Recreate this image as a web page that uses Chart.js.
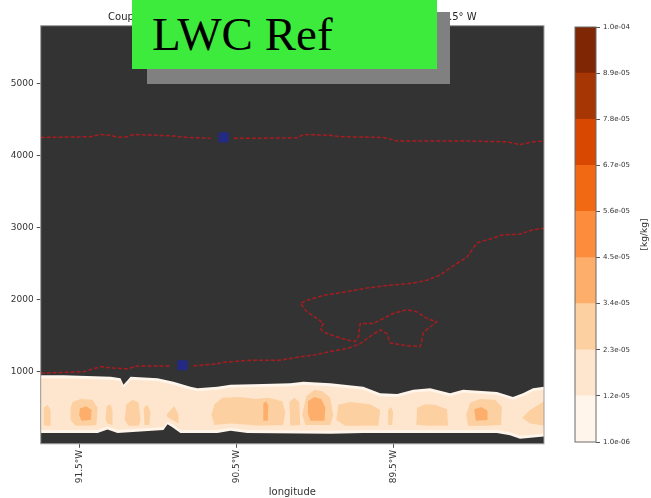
<!DOCTYPE html>
<html>
<head>
<meta charset="utf-8">
<script src="https://cdn.jsdelivr.net/npm/chart.js@4.4.1/dist/chart.umd.min.js"></script>
<style>
  html, body { margin: 0; padding: 0; background: #ffffff; }
  #wrap { position: relative; width: 651px; height: 498px; overflow: hidden; }
  #main { position: absolute; left: 0; top: 0; }
  #cbar { position: absolute; left: 560px; top: 0; }
  #tagShadow { position: absolute; left: 147px; top: 12px; width: 303px; height: 72px; background: #808080; }
  #tag { position: absolute; left: 132px; top: -3px; width: 305px; height: 72px; background: #3deb3d; }
  #tag span { position: absolute; left: 20px; top: 13.6px; font: 47px/47px "Liberation Serif", serif; color: #000; white-space: nowrap; }
</style>
</head>
<body>
<div id="wrap">
  <canvas id="main" width="651" height="498"></canvas>
  <canvas id="cbar" width="91" height="498"></canvas>
  <div id="tagShadow"></div>
  <div id="tag"><span>LWC Ref</span></div>
</div>
<script>
// ---- axes -------------------------------------------------------------
const lonRange = [-91.75, -88.54];
const heightRange = [0, 5800];
const lonTicks = [-91.5, -90.5, -89.5];
const heightTicks = [1000, 2000, 3000, 4000, 5000];

// ---- LWC contour levels [kg/kg] and their fill colours ---------------------
const lwcLevels = [1e-6, 1.2e-5, 2.3e-5, 3.4e-5, 4.5e-5, 5.6e-5, 6.7e-5, 7.8e-5, 8.9e-5, 1e-4];
const lwcColors = ['#fff5eb', '#fee6ce', '#fdd0a2', '#fdae6b', '#fd8d3c', '#f16913', '#d94801', '#a63603', '#7f2704'];

// ---- cloud layer outlines, [longitude, height m] ---------------------------
const cloudOuter = [
  [-91.75,950],[-91.604,950],[-91.304,930],[-91.241,910],[-91.222,820],[-91.196,880],[-91.177,930],
  [-91.005,910],[-90.903,860],[-90.795,790],[-90.75,770],[-90.623,790],[-90.54,820],[-90.33,830],
  [-90.158,840],[-90.075,860],[-89.903,840],[-89.693,790],[-89.585,700],[-89.476,690],[-89.374,750],
  [-89.266,770],[-89.139,700],[-89.056,750],[-88.84,720],[-88.738,650],[-88.674,700],[-88.61,770],[-88.54,790],
  [-88.54,100],[-88.693,70],[-88.757,120],[-88.84,150],[-89.266,150],[-89.693,150],[-89.903,140],
  [-90.432,150],[-90.54,180],[-90.623,150],[-90.859,150],[-90.91,230],[-90.941,270],[-90.967,190],
  [-91.26,150],[-91.324,200],[-91.387,150],[-91.75,150]
];
const cloudCore = [
  [-91.75,910],[-91.604,910],[-91.304,890],[-91.241,870],[-91.222,780],[-91.196,840],[-91.177,890],
  [-91.005,870],[-90.903,820],[-90.795,750],[-90.75,730],[-90.623,750],[-90.54,780],[-90.33,790],
  [-90.158,800],[-90.075,820],[-89.903,800],[-89.693,750],[-89.585,660],[-89.476,650],[-89.374,710],
  [-89.266,730],[-89.139,660],[-89.056,710],[-88.84,680],[-88.738,610],[-88.674,660],[-88.61,730],[-88.54,750],
  [-88.54,140],[-88.693,110],[-88.757,160],[-88.84,190],[-89.266,190],[-89.693,190],[-89.903,180],
  [-90.432,190],[-90.54,220],[-90.623,190],[-90.859,190],[-90.91,270],[-90.941,310],[-90.967,230],
  [-91.26,190],[-91.324,240],[-91.387,190],[-91.75,190]
];
// 1.2e-05 .. 2.3e-05 cells
const lwcPatchesMid = [
  [[-91.731,500],[-91.706,540],[-91.687,470],[-91.687,250],[-91.712,250],[-91.731,260]],
  [[-91.547,580],[-91.496,620],[-91.419,610],[-91.387,500],[-91.394,260],[-91.445,250],[-91.527,250],[-91.559,330],[-91.559,500]],
  [[-91.330,520],[-91.304,550],[-91.292,470],[-91.292,260],[-91.324,280],[-91.336,330]],
  [[-91.203,550],[-91.164,610],[-91.126,570],[-91.113,330],[-91.126,250],[-91.190,250],[-91.215,330]],
  [[-91.094,500],[-91.069,540],[-91.050,440],[-91.056,260],[-91.088,260]],
  [[-90.922,470],[-90.897,520],[-90.871,400],[-90.871,280],[-90.941,370],[-90.948,400]],
  [[-90.642,550],[-90.591,640],[-90.476,650],[-90.381,620],[-90.298,640],[-90.209,590],[-90.190,440],[-90.203,260],[-90.349,250],[-90.540,280],[-90.642,260],[-90.661,400]],
  [[-90.164,580],[-90.132,640],[-90.101,580],[-90.094,260],[-90.158,250]],
  [[-90.056,660],[-90.005,750],[-89.954,730],[-89.903,640],[-89.884,400],[-89.903,260],[-90.062,260],[-90.082,400]],
  [[-89.852,540],[-89.776,580],[-89.648,550],[-89.585,470],[-89.597,250],[-89.808,250],[-89.865,330]],
  [[-89.534,470],[-89.515,510],[-89.502,440],[-89.508,260],[-89.534,260]],
  [[-89.349,500],[-89.298,550],[-89.234,540],[-89.158,480],[-89.152,250],[-89.266,250],[-89.355,260]],
  [[-89.011,570],[-88.948,620],[-88.852,610],[-88.808,510],[-88.814,260],[-88.916,250],[-89.024,250],[-89.037,400]],
  [[-88.54,590],[-88.54,250],[-88.629,280],[-88.680,360],[-88.629,470]]
];
// 2.3e-05 .. 3.4e-05 cells
const lwcPatchesHigh = [
  [[-91.500,490],[-91.460,520],[-91.425,470],[-91.430,330],[-91.490,320],[-91.505,400]],
  [[-90.045,590],[-90.005,650],[-89.960,620],[-89.935,500],[-89.940,320],[-90.030,320],[-90.045,420]],
  [[-90.330,560],[-90.313,590],[-90.298,530],[-90.302,320],[-90.330,320]],
  [[-88.985,480],[-88.940,510],[-88.900,460],[-88.900,330],[-88.975,320]]
];

// ---- reference contour (dashed red), [longitude, height m] ------------------
const isoUpperWest = [[-91.75,4250],[-91.432,4260],[-91.368,4290],[-91.304,4280],[-91.262,4250],[-91.198,4260],
  [-91.156,4290],[-91.007,4280],[-90.901,4270],[-90.816,4250],[-90.668,4240]];
const isoUpperEast = [[-90.519,4240],[-90.328,4240],[-90.115,4245],[-90.073,4290],[-89.903,4280],[-89.84,4260],
  [-89.564,4250],[-89.478,4200],[-89.266,4200],[-89.054,4200],[-88.778,4190],[-88.693,4150],[-88.608,4190],[-88.54,4200]];
const isoLowerWest = [[-91.75,980],[-91.476,1000],[-91.368,1070],[-91.285,1050],[-91.196,1040],[-91.133,1080],[-90.922,1080]];
const isoLowerEast = [[-90.776,1080],[-90.623,1110],[-90.585,1130],[-90.413,1160],[-90.33,1160],[-90.222,1160],
  [-90.115,1200],[-90.01,1230],[-89.903,1280],[-89.797,1320],[-89.712,1390],[-89.648,1490],[-89.585,1580],
  [-89.542,1530],[-89.521,1400],[-89.415,1360],[-89.33,1350],[-89.319,1440],[-89.309,1550],[-89.266,1620],
  [-89.224,1690],[-89.287,1740],[-89.351,1830],[-89.415,1860],[-89.5,1810],[-89.564,1740],[-89.627,1670],
  [-89.712,1670],[-89.723,1490],[-89.744,1420],[-89.797,1440],[-89.871,1490],[-89.946,1550],[-89.967,1600],
  [-89.946,1670],[-89.988,1740],[-90.052,1830],[-90.094,1950],[-90.052,1990],[-89.946,2060],[-89.797,2110],
  [-89.669,2160],[-89.521,2200],[-89.373,2230],[-89.287,2270],[-89.203,2340],[-89.139,2440],[-89.031,2590],
  [-88.967,2790],[-88.884,2840],[-88.801,2900],[-88.693,2910],[-88.61,2970],[-88.54,2990]];
const contourLabelPts = [[-90.583,4250],[-90.846,1090]];

const titleText = 'Coupled model liquid water content at 0.25° S, from 91.75° W to 88.5° W';

// ---- helpers ---------------------------------------------------------------
const FONT = '"DejaVu Sans", sans-serif';
const pts = arr => arr.map(([x, y]) => ({x, y}));
const region = (arr, band) => ({
  data: pts(arr), showLine: true, fill: 'shape', tension: 0,
  backgroundColor: lwcColors[band], borderColor: 'rgba(0,0,0,0)', borderWidth: 0, pointRadius: 0
});
const contour = arr => ({
  data: pts(arr), showLine: true, fill: false, tension: 0,
  borderColor: '#a81c20', borderWidth: 1.5, borderDash: [4, 2], pointRadius: 0
});
const sciLabel = v => {
  const [m, e] = Number(v).toExponential(1).split('e');
  const n = parseInt(e, 10);
  return m + 'e' + (n < 0 ? '-' : '+') + String(Math.abs(n)).padStart(2, '0');
};

// datasets listed top-most first
const datasets = [];
datasets.push({data: pts(contourLabelPts), showLine: false, pointStyle: 'rect', pointRadius: 7,
  backgroundColor: '#232a86', borderColor: '#232a86', borderWidth: 0});
[isoUpperWest, isoUpperEast, isoLowerWest, isoLowerEast].forEach(a => datasets.push(contour(a)));
lwcPatchesHigh.forEach(a => datasets.push(region(a, 3)));
lwcPatchesMid.forEach(a => datasets.push(region(a, 2)));
datasets.push(region(cloudCore, 1));
datasets.push(region(cloudOuter, 0));

const plotFrame = {
  id: 'plotFrame',
  beforeDatasetsDraw(chart) {
    const {ctx, chartArea: a} = chart;
    ctx.save();
    ctx.fillStyle = '#333333';
    ctx.fillRect(a.left, a.top, a.width, a.height);
    ctx.restore();
  },
  afterDatasetsDraw(chart) {
    const {ctx, chartArea: a} = chart;
    ctx.save();
    ctx.strokeStyle = '#a0a0a0';
    ctx.lineWidth = 1;
    ctx.strokeRect(a.left, a.top, a.width, a.height);
    ctx.restore();
  }
};

new Chart(document.getElementById('main'), {
  type: 'line',
  data: {datasets},
  options: {
    responsive: false, animation: false, devicePixelRatio: 1,
    layout: {padding: {left: 0, right: 107, top: 0, bottom: 0}},
    plugins: {
      legend: {display: false},
      tooltip: {enabled: false},
      title: {display: true, fullSize: false, text: titleText, color: '#262626',
        font: {family: FONT, size: 10, weight: 'normal'}, padding: {top: 11, bottom: 2.7}}
    },
    scales: {
      x: {
        type: 'linear', min: lonRange[0], max: lonRange[1],
        afterBuildTicks: s => { s.ticks = lonTicks.map(v => ({value: v})); },
        afterFit: s => { s.height = 54.2; },
        ticks: {autoSkip: false, minRotation: 90, maxRotation: 90, padding: 2, color: '#333',
          font: {family: FONT, size: 9}, callback: v => Math.abs(v).toFixed(1) + '°W'},
        grid: {display: true, drawOnChartArea: false, drawTicks: true, tickLength: 4, color: '#555'},
        border: {display: false},
        title: {display: true, text: 'longitude', color: '#333', font: {family: FONT, size: 10},
          padding: {top: 0, bottom: 0}}
      },
      y: {
        type: 'linear', min: heightRange[0], max: heightRange[1],
        afterBuildTicks: s => { s.ticks = heightTicks.map(v => ({value: v})); },
        afterFit: s => { s.width = 40.7; },
        ticks: {padding: 3, color: '#333', font: {family: FONT, size: 9}, callback: v => String(v)},
        grid: {display: true, drawOnChartArea: false, drawTicks: true, tickLength: 4, color: '#555'},
        border: {display: false}
      }
    }
  },
  plugins: [plotFrame]
});

// ---- colour bar -------------------------------------------------------------
const cbarFrame = {
  id: 'cbarFrame',
  afterDatasetsDraw(chart) {
    const {ctx, chartArea: a} = chart;
    ctx.save();
    ctx.strokeStyle = '#6b6b6b';
    ctx.lineWidth = 1;
    ctx.strokeRect(a.left, a.top, a.width, a.height);
    ctx.translate(85, (a.top + a.bottom) / 2);
    ctx.rotate(-Math.PI / 2);
    ctx.fillStyle = '#333';
    ctx.font = '9px ' + FONT;
    ctx.textAlign = 'center';
    ctx.textBaseline = 'middle';
    ctx.fillText('[kg/kg]', 0, 0);
    ctx.restore();
  }
};

new Chart(document.getElementById('cbar'), {
  type: 'bar',
  data: {
    labels: ['LWC'],
    datasets: lwcColors.map((c, i) => ({
      data: [[lwcLevels[i], lwcLevels[i + 1]]], backgroundColor: c, borderWidth: 0,
      barPercentage: 1, categoryPercentage: 1, grouped: false
    }))
  },
  options: {
    responsive: false, animation: false, devicePixelRatio: 1,
    layout: {padding: {left: 15, right: 0, top: 27, bottom: 56}},
    plugins: {legend: {display: false}, tooltip: {enabled: false}},
    scales: {
      x: {display: false},
      y: {
        position: 'right', min: lwcLevels[0], max: lwcLevels[lwcLevels.length - 1],
        afterBuildTicks: s => { s.ticks = lwcLevels.map(v => ({value: v})); },
        afterFit: s => { s.width = 55; },
        ticks: {padding: 3, color: '#333', font: {family: FONT, size: 7}, callback: v => sciLabel(v)},
        grid: {display: true, drawOnChartArea: false, drawTicks: true, tickLength: 4, color: '#555'},
        border: {display: false}
      }
    }
  },
  plugins: [cbarFrame]
});
</script>
</body>
</html>
